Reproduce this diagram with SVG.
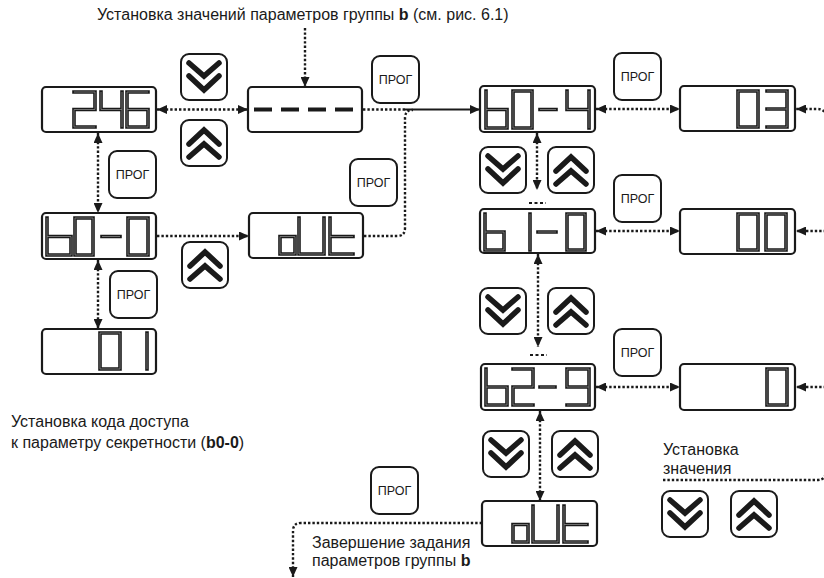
<svg xmlns="http://www.w3.org/2000/svg" xmlns:xlink="http://www.w3.org/1999/xlink" width="824" height="578" viewBox="0 0 824 578">
<defs>
<style>
text{font-family:"Liberation Sans",Arial,sans-serif;fill:#1a1a1a}
.t{font-size:16px}
.p{font-size:12.5px;text-anchor:middle}
.box{fill:#fff;stroke:#1a1a1a;stroke-width:2.2}
.btn{fill:#fff;stroke:#1a1a1a;stroke-width:2}
.seg{fill:none;stroke:#1a1a1a;stroke-width:3.6;stroke-linejoin:miter;stroke-linecap:square}
.segi{fill:none;stroke:#7a7a7a;stroke-width:0.9}
.chev{fill:none;stroke:#1a1a1a;stroke-width:5.5;stroke-linecap:round;stroke-linejoin:miter}
.dot{fill:none;stroke:#1a1a1a;stroke-width:2.4;stroke-dasharray:2.4 2}
.sol{fill:none;stroke:#1a1a1a;stroke-width:2}
.ell{fill:none;stroke:#1a1a1a;stroke-width:2;stroke-dasharray:3 2.5}
</style>
<marker id="ah" viewBox="0 0 10 9" refX="10" refY="4.5" markerWidth="10" markerHeight="9" markerUnits="userSpaceOnUse" orient="auto-start-reverse"><path d="M0 0L10 4.5L0 9z" fill="#1a1a1a"/></marker>
<g id="bdown"><rect class="btn" x="1" y="1" width="46" height="46" rx="8"/><path class="chev" d="M9 10L24 23L39 10M9 23L24 37L39 23"/></g>
<g id="bup"><rect class="btn" x="1" y="1" width="46" height="46" rx="8"/><path class="chev" d="M9 38L24 25L39 38M9 25L24 11L39 25"/></g>
<g id="bprog"><rect class="btn" x="1" y="1" width="47" height="47" rx="8"/><text class="p" x="24.5" y="29">ПРОГ</text></g>
</defs>
<rect width="824" height="578" fill="#fff"/>

<g id="labels">
<text class="t" x="97" y="20">Установка значений параметров группы <tspan font-weight="bold">b</tspan> (см. рис. 6.1)</text>
<text class="t" x="11" y="427">Установка кода доступа</text>
<text class="t" x="11" y="448">к параметру секретности (<tspan font-weight="bold">b0-0</tspan>)</text>
<text class="t" x="312" y="548">Завершение задания</text>
<text class="t" x="312" y="566">параметров группы <tspan font-weight="bold">b</tspan></text>
<text class="t" x="663" y="455">Установка</text>
<text class="t" x="663" y="474">значения</text>
</g>

<g id="connectors">
<path class="dot" d="M305 28V87" marker-end="url(#ah)"/>
<path class="dot" d="M157 109.5H248" marker-start="url(#ah)" marker-end="url(#ah)"/>
<path class="dot" d="M98 133V213" marker-start="url(#ah)" marker-end="url(#ah)"/>
<path class="dot" d="M98 260V329" marker-start="url(#ah)" marker-end="url(#ah)"/>
<path class="dot" d="M157 236H249" marker-end="url(#ah)"/>
<path class="dot" d="M363 109.5H405"/>
<path class="sol" d="M405 109.5H480" marker-end="url(#ah)"/>
<path class="dot" d="M364 236H397Q405 236 405 228V118Q405 110 413 110"/>
<path class="dot" d="M596 109H680" marker-start="url(#ah)" marker-end="url(#ah)"/>
<path class="dot" d="M537 133V190" marker-start="url(#ah)" marker-end="url(#ah)"/>
<path class="ell" d="M529 203H546"/>
<path class="dot" d="M596 231H680" marker-start="url(#ah)" marker-end="url(#ah)"/>
<path class="dot" d="M538 254V347" marker-start="url(#ah)" marker-end="url(#ah)"/>
<path class="ell" d="M530 355H547"/>
<path class="dot" d="M596 387H680" marker-start="url(#ah)" marker-end="url(#ah)"/>
<path class="dot" d="M540 411V501" marker-start="url(#ah)" marker-end="url(#ah)"/>
<path class="dot" d="M482 523H301Q293 523 293 531V577" marker-end="url(#ah)"/>
<path class="dot" d="M663 480H817Q826 480 826 471V118Q826 109 817 109H796" marker-end="url(#ah)"/>
<path class="dot" d="M826 231H796" marker-end="url(#ah)"/>
<path class="dot" d="M826 387H796" marker-end="url(#ah)"/>
</g>

<g id="disp-246"><rect class="box" x="42" y="87" width="114" height="45" rx="4"/>
<g class="seg"><path id="s246" d="M74 92H95V109.5H74V127H95M101 92V109.5H122M122 92V127M148 92H127V127H148V109.5H127"/></g><use xlink:href="#s246" class="segi"/></g>
<g id="disp-dashes"><rect class="box" x="248" y="87" width="114" height="45" rx="4"/>
<path d="M254 109.5H272M281 109.5H299M308 109.5H326M335 109.5H353" fill="none" stroke="#1a1a1a" stroke-width="4"/></g>
<g id="disp-b0-0"><rect class="box" x="42" y="213" width="114" height="46" rx="4"/>
<g class="seg"><path id="sb00" d="M47 218V255H71V236.5H47M75 218H93V255H75ZM102 236.5H120M128 218H148V255H128Z"/></g><use xlink:href="#sb00" class="segi"/></g>
<g id="disp-01"><rect class="box" x="42" y="329" width="114" height="45" rx="4"/>
<g class="seg"><path id="s01" d="M100 333H120V369H100ZM147 333V369"/></g><use xlink:href="#s01" class="segi"/></g>
<g id="disp-out1"><rect class="box" x="249" y="213" width="114" height="45" rx="4"/>
<g class="seg"><path id="sout1" d="M280 236.5H295V254H280ZM299 218V254H324V218M330 218V254H353M330 236.5H353"/></g><use xlink:href="#sout1" class="segi"/></g>

<g id="disp-b0-4"><rect class="box" x="480" y="86" width="115" height="46" rx="4"/>
<g class="seg"><path id="sb04" d="M486 91V128H507V109.5H486M513 91H532V128H513ZM540 109.5H556M567 91V109.5H589M589 91V128"/></g><use xlink:href="#sb04" class="segi"/></g>
<g id="disp-03"><rect class="box" x="680" y="86" width="115" height="45" rx="4"/>
<g class="seg"><path id="s03" d="M738 91H758V127H738ZM767 91H787V127H767M767 109H787"/></g><use xlink:href="#s03" class="segi"/></g>
<g id="disp-b1-0"><rect class="box" x="480" y="209" width="115" height="44" rx="4"/>
<g class="seg"><path id="sb10" d="M485 214V250H504V232H485M530 214V250M538 232H556M567 214H585V250H567Z"/></g><use xlink:href="#sb10" class="segi"/></g>
<g id="disp-00"><rect class="box" x="680" y="209" width="115" height="45" rx="4"/>
<g class="seg"><path id="s00" d="M738 214H758V250H738ZM766 214H786V250H766Z"/></g><use xlink:href="#s00" class="segi"/></g>
<g id="disp-b2-9"><rect class="box" x="481" y="364" width="114" height="46" rx="4"/>
<g class="seg"><path id="sb29" d="M486 369V405H507V387H486M513 369H533V387H513V405H533M540 387H555M589 387H567V369H589V405H567"/></g><use xlink:href="#sb29" class="segi"/></g>
<g id="disp-0"><rect class="box" x="680" y="364" width="115" height="46" rx="4"/>
<g class="seg"><path id="s0" d="M767 369H787V405H767Z"/></g><use xlink:href="#s0" class="segi"/></g>
<g id="disp-out2"><rect class="box" x="482" y="501" width="115" height="45" rx="4"/>
<g class="seg"><path id="sout2" d="M513 524.5H528V542H513ZM533 506V542H558V506M564 506V542H587M564 524.5H587"/></g><use xlink:href="#sout2" class="segi"/></g>

<g id="btn-down-1"><use xlink:href="#bdown" x="180" y="53"/></g>
<g id="btn-up-1"><use xlink:href="#bup" x="180" y="119"/></g>
<g id="btn-up-2"><use xlink:href="#bup" x="181" y="241"/></g>
<g id="btn-down-2"><use xlink:href="#bdown" x="479" y="146"/></g>
<g id="btn-up-3"><use xlink:href="#bup" x="547" y="146"/></g>
<g id="btn-down-3"><use xlink:href="#bdown" x="479" y="287"/></g>
<g id="btn-up-4"><use xlink:href="#bup" x="547" y="287"/></g>
<g id="btn-down-4"><use xlink:href="#bdown" x="482" y="430"/></g>
<g id="btn-up-5"><use xlink:href="#bup" x="551" y="430"/></g>
<g id="btn-down-5"><use xlink:href="#bdown" x="661" y="490"/></g>
<g id="btn-up-6"><use xlink:href="#bup" x="730" y="490"/></g>

<g id="prog-1"><use xlink:href="#bprog" x="371" y="55"/></g>
<g id="prog-2"><use xlink:href="#bprog" x="108" y="150"/></g>
<g id="prog-3"><use xlink:href="#bprog" x="109" y="270"/></g>
<g id="prog-4"><use xlink:href="#bprog" x="349" y="158"/></g>
<g id="prog-5"><use xlink:href="#bprog" x="613" y="52"/></g>
<g id="prog-6"><use xlink:href="#bprog" x="613" y="174"/></g>
<g id="prog-7"><use xlink:href="#bprog" x="613" y="328"/></g>
<g id="prog-8"><use xlink:href="#bprog" x="370" y="466"/></g>
</svg>
